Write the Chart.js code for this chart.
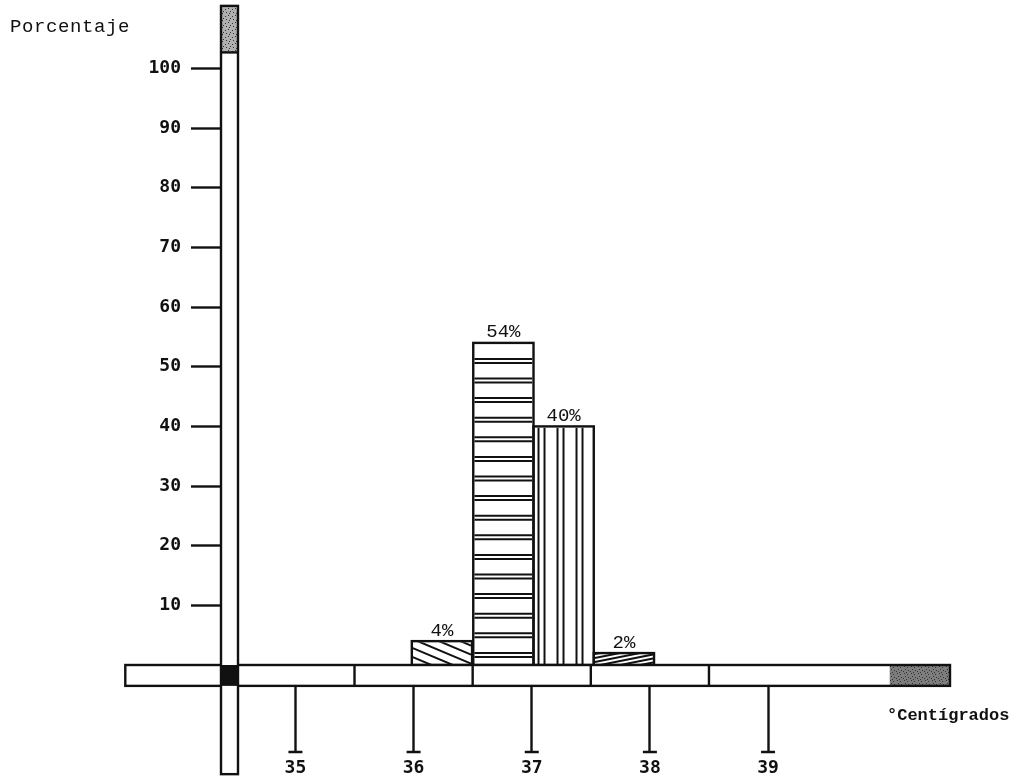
<!DOCTYPE html>
<html>
<head>
<meta charset="utf-8">
<script src="https://cdn.jsdelivr.net/npm/chart.js@4.4.1/dist/chart.umd.min.js"></script>
<style>
    html, body { margin: 0; padding: 0; background: #fff; }
    canvas { display: block; }
</style>
</head>
<body>
<canvas id="temperature-histogram" width="1018" height="782"></canvas>
<script>
// temperature classes (bin centres, about 0.5 degree wide) and share of cases
const binCenters = [36.24, 36.76, 37.27, 37.78];
const percentages = [4, 54, 40, 2];
const hatchStyles = ['diagDown', 'horizontal', 'vertical', 'diagUp'];

const yTickValues = [10, 20, 30, 40, 50, 60, 70, 80, 90, 100];
const xTickValues = [35, 36, 37, 38, 39];
const bandDividers = [35.5, 36.5, 37.5, 38.5];

const INK = '#111';
const monoFont = '"Liberation Mono", "DejaVu Sans Mono", monospace';
const tickFont = { family: '"DejaVu Sans Mono", monospace', size: 18, weight: 'bold' };

function stipplePattern(ctx, base, dots) {
    const tile = document.createElement('canvas');
    tile.width = 7;
    tile.height = 7;
    const t = tile.getContext('2d');
    t.fillStyle = base;
    t.fillRect(0, 0, 7, 7);
    t.fillStyle = '#333';
    dots.forEach(([x, y]) => t.fillRect(x, y, 1, 1));
    return ctx.createPattern(tile, 'repeat');
}

function drawHatch(ctx, style, left, top, right, bottom) {
    ctx.save();
    ctx.beginPath();
    ctx.rect(left, top, right - left, bottom - top);
    ctx.clip();
    ctx.strokeStyle = INK;
    ctx.lineWidth = 2;
    ctx.beginPath();
    const w = right - left;
    if (style === 'horizontal') {
        for (let y = top + 15; y < bottom - 2; y += 19.6) {
            ctx.moveTo(left, y); ctx.lineTo(right, y);
            ctx.moveTo(left, y + 4); ctx.lineTo(right, y + 4);
        }
    } else if (style === 'vertical') {
        for (let x = left + 4; x < right - 3; x += 19) {
            ctx.moveTo(x, top); ctx.lineTo(x, bottom);
            ctx.moveTo(x + 6, top); ctx.lineTo(x + 6, bottom);
        }
    } else if (style === 'diagDown') {
        for (let y = top - 30; y < bottom + 5; y += 9) {
            ctx.moveTo(left, y); ctx.lineTo(right, y + w * 0.42);
        }
    } else if (style === 'diagUp') {
        for (let y = top; y < bottom + 20; y += 4) {
            ctx.moveTo(left, y); ctx.lineTo(right, y - w * 0.2);
        }
    }
    ctx.stroke();
    ctx.restore();
}

const decorPlugin = {
    id: 'decor',
    afterDatasetsDraw(chart) {
        const ctx = chart.ctx;
        const meta = chart.getDatasetMeta(0);
        meta.data.forEach((bar, i) => {
            const { x, y, base, width } = bar.getProps(['x', 'y', 'base', 'width'], true);
            const left = x - width / 2;
            drawHatch(ctx, hatchStyles[i], left + 1, y + 1, left + width - 1, base);
            ctx.save();
            ctx.strokeStyle = INK;
            ctx.lineWidth = 2.4;
            ctx.strokeRect(left, y, width, base - y);
            ctx.fillStyle = INK;
            ctx.font = '19px ' + monoFont;
            ctx.textAlign = 'center';
            ctx.textBaseline = 'bottom';
            ctx.fillText(percentages[i] + '%', x, y - 1);
            ctx.restore();
        });
    },
    afterDraw(chart) {
        const ctx = chart.ctx;
        const xs = chart.scales.x;
        const ys = chart.scales.y;
        const area = chart.chartArea;
        const px = (v) => xs.getPixelForValue(v);
        const py = (v) => ys.getPixelForValue(v);

        ctx.save();
        ctx.strokeStyle = INK;
        ctx.lineWidth = 2.4;

        // horizontal band under the bars
        const bandTop = py(0);
        const bandBottom = py(-3.5);
        const bandLeft = px(33.56);
        const bandRight = area.right;
        const greyStart = px(40.03);
        ctx.fillStyle = '#fff';
        ctx.fillRect(bandLeft, bandTop, bandRight - bandLeft, bandBottom - bandTop);
        ctx.fillStyle = stipplePattern(ctx, '#7d7d7d', [[1, 1], [4, 2], [2, 4], [5, 5], [0, 6], [3, 0]]);
        ctx.fillRect(greyStart, bandTop, bandRight - greyStart, bandBottom - bandTop);
        ctx.strokeRect(bandLeft, bandTop, bandRight - bandLeft, bandBottom - bandTop);
        ctx.beginPath();
        bandDividers.forEach((v) => {
            ctx.moveTo(px(v), bandTop);
            ctx.lineTo(px(v), bandBottom);
        });
        ctx.stroke();

        // crossbars at the foot of the x ticks
        const tickFoot = area.bottom + chart.options.scales.x.grid.tickLength;
        ctx.beginPath();
        xTickValues.forEach((v) => {
            ctx.moveTo(px(v) - 7, tickFoot);
            ctx.lineTo(px(v) + 7, tickFoot);
        });
        ctx.stroke();

        // vertical column carrying the percentage axis
        const colLeft = area.left;
        const colRight = area.left + 17;
        const colTop = py(110.5);
        const colGrey = py(102.7);
        const colBottom = py(-18.3);
        ctx.fillStyle = '#fff';
        ctx.fillRect(colLeft, colTop, colRight - colLeft, colBottom - colTop);
        ctx.fillStyle = stipplePattern(ctx, '#b0b0b0', [[1, 2], [4, 1], [2, 5], [6, 4], [5, 6]]);
        ctx.fillRect(colLeft, colTop, colRight - colLeft, colGrey - colTop);
        ctx.strokeRect(colLeft, colTop, colRight - colLeft, colBottom - colTop);
        ctx.beginPath();
        ctx.moveTo(colLeft, colGrey);
        ctx.lineTo(colRight, colGrey);
        ctx.stroke();
        ctx.fillStyle = INK;
        ctx.fillRect(colLeft, bandTop, colRight - colLeft, bandBottom - bandTop);

        // axis titles
        ctx.fillStyle = INK;
        ctx.textBaseline = 'middle';
        ctx.textAlign = 'left';
        ctx.font = '19px ' + monoFont;
        ctx.letterSpacing = '0.6px';
        ctx.fillText('Porcentaje', 10, 27);
        ctx.letterSpacing = '0px';
        ctx.font = 'bold 17px ' + monoFont;
        ctx.fillText('°Centígrados', area.right - 63, area.bottom + 51);
        ctx.restore();
    },
};

new Chart(document.getElementById('temperature-histogram'), {
    type: 'bar',
    data: {
        datasets: [
            {
                data: binCenters.map((x, i) => ({ x, y: percentages[i] })),
                backgroundColor: '#fff',
                borderWidth: 0,
                barPercentage: 1,
                categoryPercentage: 1,
            },
        ],
    },
    options: {
        responsive: false,
        animation: false,
        layout: { padding: { left: 125, right: 68, top: 15, bottom: 0 } },
        plugins: { legend: { display: false }, tooltip: { enabled: false } },
        scales: {
            x: {
                type: 'linear',
                min: 34.37,
                max: 40.54,
                offset: false,
                afterBuildTicks: (scale) => { scale.ticks = xTickValues.map((value) => ({ value })); },
                afterFit: (scale) => { scale.height = 117; },
                grid: {
                    offset: false,
                    drawOnChartArea: false,
                    tickLength: 87,
                    tickWidth: 2.4,
                    tickColor: INK,
                },
                border: { color: INK, width: 2.4 },
                ticks: { color: INK, font: tickFont, padding: 6, maxRotation: 0 },
            },
            y: {
                type: 'linear',
                min: 0,
                max: 108,
                afterBuildTicks: (scale) => { scale.ticks = yTickValues.map((value) => ({ value })); },
                afterFit: (scale) => { scale.width = 96; },
                grid: {
                    drawOnChartArea: false,
                    tickLength: 30,
                    tickWidth: 2.4,
                    tickColor: INK,
                },
                border: { color: INK, width: 2.4 },
                ticks: { color: INK, font: tickFont, padding: 10 },
            },
        },
    },
    plugins: [decorPlugin],
});
</script>
</body>
</html>
